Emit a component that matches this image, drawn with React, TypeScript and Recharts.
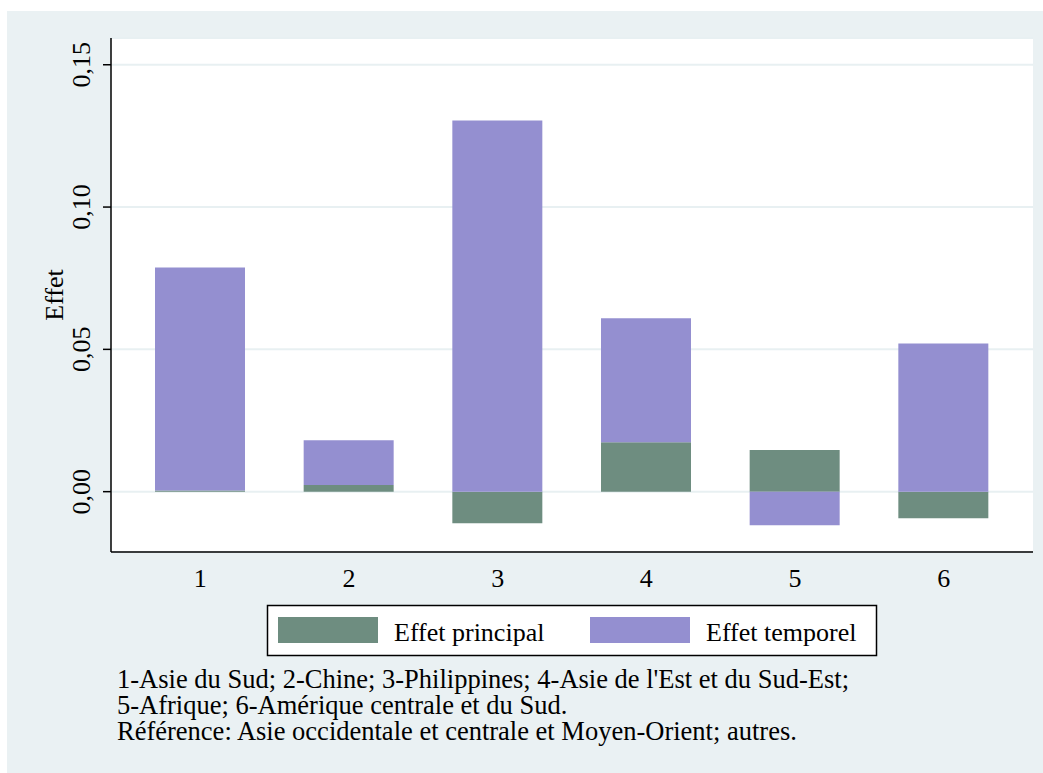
import { BarChart, Bar, XAxis, YAxis, CartesianGrid } from "recharts";

const categories = ["1", "2", "3", "4", "5", "6"];
const effetPrincipal = [0.0004, 0.0023, -0.0111, 0.0174, 0.0146, -0.0093];
const effetTemporel = [0.0784, 0.0158, 0.1304, 0.0435, -0.0118, 0.0521];
const yTicks = [0, 0.05, 0.1, 0.15];
const noteLines = [
    "1-Asie du Sud; 2-Chine; 3-Philippines; 4-Asie de l'Est et du Sud-Est;",
    "5-Afrique; 6-Amérique centrale et du Sud.",
    "Référence: Asie occidentale et centrale et Moyen-Orient; autres.",
];

const data = categories.map((c, i) => ({
    name: c,
    principal: effetPrincipal[i],
    temporel: effetTemporel[i],
}));

const FONT = "'Liberation Serif', 'Times New Roman', serif";
const GREEN = "#6e8d80";
const PURPLE = "#948fd0";
const PANEL = "#eaf1f3";

function XTick({ x, y, payload }: any) {
    return (
        <text x={x} y={y + 35} textAnchor="middle" fontFamily={FONT} fontSize={26} fill="#000">
            {payload.value}
        </text>
    );
}

function YTick({ x, y, payload }: any) {
    const label = Number(payload.value).toFixed(2).replace(".", ",");
    return (
        <text
            transform={`translate(${x - 13},${y}) rotate(-90)`}
            textAnchor="middle"
            fontFamily={FONT}
            fontSize={26}
            fill="#000"
        >
            {label}
        </text>
    );
}

export default function App() {
    return (
        <div style={{ position: "absolute", left: 0, top: 0, width: 1043, height: 773, background: "#fff" }}>
            <div style={{ position: "absolute", left: 7, top: 11, width: 1036, height: 762, background: PANEL }} />
            <div style={{ position: "absolute", left: 0, top: 0 }}>
                <BarChart
                    width={1043}
                    height={600}
                    data={data}
                    stackOffset="sign"
                    margin={{ top: 38, right: 10, left: 51, bottom: 18 }}
                >
                    <CartesianGrid vertical={false} stroke="#e8f0f2" strokeWidth={2} fill="#fff" />
                    <XAxis
                        dataKey="name"
                        height={30}
                        padding={{ left: 15, right: 15 }}
                        axisLine={{ stroke: "#000", strokeWidth: 1.5 }}
                        tickLine={false}
                        tickSize={0}
                        tickMargin={0}
                        tick={<XTick />}
                    />
                    <YAxis
                        width={60}
                        type="number"
                        domain={[-0.0212, 0.1594]}
                        ticks={yTicks}
                        allowDataOverflow
                        axisLine={{ stroke: "#000", strokeWidth: 1.5 }}
                        tickLine={{ stroke: "#000", strokeWidth: 1.5 }}
                        tickSize={8}
                        tickMargin={0}
                        tick={<YTick />}
                    />
                    <Bar dataKey="principal" stackId="a" fill={GREEN} barSize={90} isAnimationActive={false} />
                    <Bar dataKey="temporel" stackId="a" fill={PURPLE} barSize={90} isAnimationActive={false} />
                </BarChart>
            </div>
            <svg width={1043} height={773} style={{ position: "absolute", left: 0, top: 0, pointerEvents: "none" }}>
                <text
                    transform="translate(63,295) rotate(-90)"
                    textAnchor="middle"
                    fontFamily={FONT}
                    fontSize={26}
                    fill="#000"
                >
                    Effet
                </text>
                <rect x={267.5} y={605.5} width={609} height={50} fill="#fff" stroke="#000" strokeWidth={1.5} />
                <rect x={278} y={617} width={100} height={26} fill={GREEN} />
                <text x={394} y={641} fontFamily={FONT} fontSize={26} fill="#000">
                    Effet principal
                </text>
                <rect x={590} y={617} width={100} height={26} fill={PURPLE} />
                <text x={706} y={641} fontFamily={FONT} fontSize={26} fill="#000">
                    Effet temporel
                </text>
                {noteLines.map((line, i) => (
                    <text key={i} x={117} y={[688, 714, 740][i]} fontFamily={FONT} fontSize={26.5} fill="#000">
                        {line}
                    </text>
                ))}
            </svg>
        </div>
    );
}
